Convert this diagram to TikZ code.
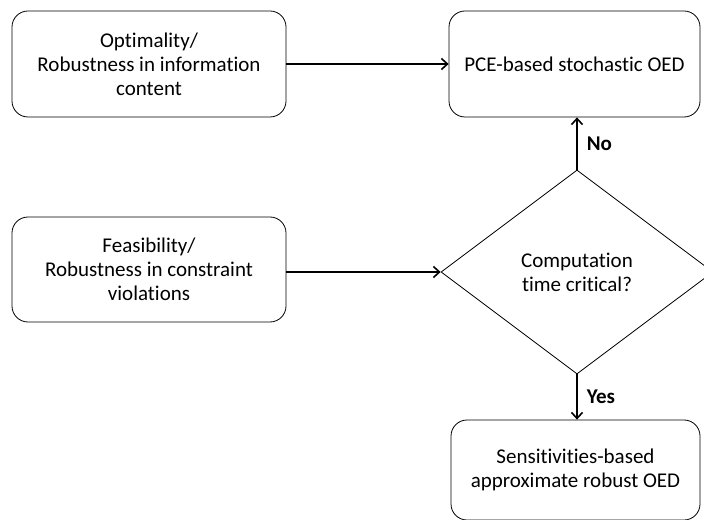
\documentclass[tikz,border=0pt]{standalone}
\usepackage{fontspec}
\setmainfont{Carlito}[Ligatures={NoCommon}]
\usetikzlibrary{arrows.meta,shapes.geometric}
\begin{document}
\begin{tikzpicture}[x=1bp,y=-1bp,
  rbox/.style={draw=black,line width=0.8bp,rounded corners=16bp,align=center,inner sep=0pt,
    font=\fontsize{21bp}{24bp}\selectfont},
  dec/.style={draw=black,line width=0.8bp,diamond,inner sep=0pt,align=center,
    font=\fontsize{21bp}{24bp}\selectfont},
  conn/.style={line width=1.8bp,-{Straight Barb[length=6bp,width=11bp,line width=1.6bp]}},
  lab/.style={font=\fontsize{21bp}{24bp}\selectfont\bfseries,inner sep=0pt}]
\useasboundingbox (0,0) rectangle (704,520);
\begin{scope}
\clip (0,0) rectangle (704,520);
\node[rbox,minimum width=274bp,minimum height=106bp] (opt) at (149,64) {Optimality/\\Robustness in information\\content};
\node[rbox,minimum width=251bp,minimum height=106bp] (pce) at (574.5,64) {PCE-based stochastic OED};
\node[rbox,minimum width=274bp,minimum height=105bp] (fea) at (149,269.5) {Feasibility/\\Robustness in constraint\\violations};
\node[dec,minimum width=272bp,minimum height=204bp] (dia) at (577,272) {Computation\\time critical?};
\node[rbox,minimum width=249bp,minimum height=100bp] (sen) at (575.5,470) {Sensitivities-based\\approximate robust OED};
\end{scope}
\draw[conn] (opt.east) -- (pce.west);
\draw[conn] (fea.east |- dia.west) -- (dia.west);
\draw[conn] (dia.north) -- (dia.north |- pce.south) node[lab,midway,right=9bp] {No};
\draw[conn] (dia.south) -- (dia.south |- sen.north) node[lab,midway,right=9bp] {Yes};
\end{tikzpicture}
\end{document}
